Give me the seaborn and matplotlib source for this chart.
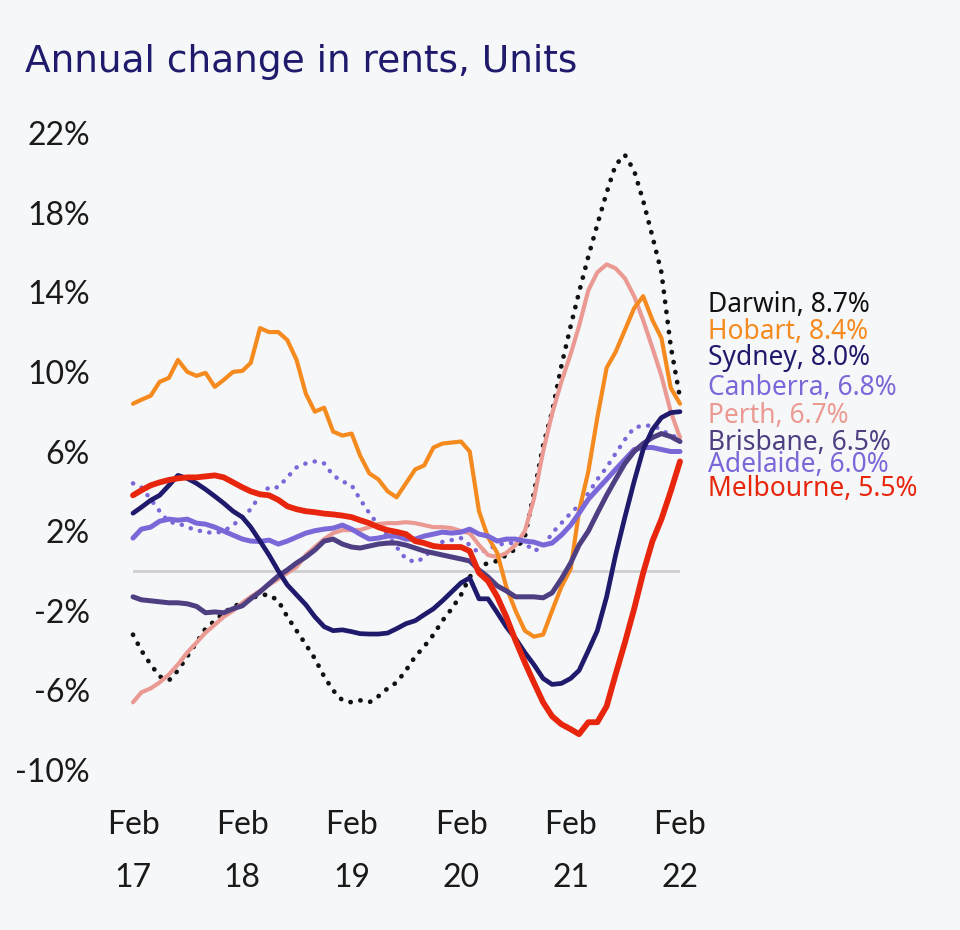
import matplotlib
matplotlib.use("Agg")
import matplotlib.pyplot as plt
import numpy as np
import pandas as pd
import seaborn as sns

# monthly annual change in unit rents (%), Feb 2017 .. Feb 2022
months = pd.date_range("2017-02-01", periods=61, freq="MS")

darwin = [-3.2, -4.0, -4.7, -5.3, -5.5, -5.0, -4.3, -3.6, -2.9, -2.5, -2.1, -1.8,
          -1.6, -1.4, -1.2, -1.2, -1.5, -2.3, -3.0, -3.7, -4.4, -5.3, -6.0, -6.5,
          -6.6, -6.5, -6.6, -6.3, -5.9, -5.6, -5.0, -4.3, -3.8, -3.2, -2.5, -1.9,
          -1.2, -0.3, 0.2, 0.4, 0.5, 0.8, 1.1, 1.7, 3.9, 6.3, 8.0, 10.3,
          12.3, 14.0, 15.8, 17.4, 19.0, 20.4, 20.9, 20.1, 18.6, 16.8, 15.0, 11.3, 8.7]
hobart = [8.4, 8.6, 8.8, 9.5, 9.7, 10.6, 10.0, 9.8, 9.95, 9.25, 9.6, 10.0,
          10.05, 10.45, 12.2, 12.0, 12.0, 11.6, 10.6, 8.9, 8.0, 8.2, 7.0, 6.8,
          6.9, 5.8, 4.9, 4.6, 4.0, 3.7, 4.4, 5.1, 5.3, 6.2, 6.4, 6.45,
          6.5, 6.0, 3.0, 1.7, 0.9, -0.8, -2.0, -3.0, -3.3, -3.2, -2.0, -0.8,
          0.1, 3.0, 5.0, 7.7, 10.2, 11.0, 12.1, 13.2, 13.8, 12.6, 11.7, 9.2, 8.4]
sydney = [2.9, 3.2, 3.55, 3.8, 4.3, 4.8, 4.65, 4.4, 4.1, 3.75, 3.4, 3.0,
          2.7, 2.2, 1.5, 0.8, 0.0, -0.7, -1.2, -1.7, -2.3, -2.8, -3.0, -2.96,
          -3.05, -3.15, -3.17, -3.17, -3.12, -2.9, -2.65, -2.5, -2.2, -1.9, -1.5, -1.05,
          -0.6, -0.35, -1.4, -1.4, -2.1, -2.8, -3.4, -4.1, -4.7, -5.4, -5.7, -5.65,
          -5.4, -5.0, -4.0, -3.0, -1.3, 0.8, 2.7, 4.5, 6.1, 7.1, 7.7, 7.95, 8.0]
canberra = [4.4, 4.2, 3.6, 3.0, 2.45, 2.4, 2.2, 2.05, 1.95, 1.9, 2.0, 2.3,
            2.7, 3.1, 3.8, 4.2, 4.2, 4.7, 5.2, 5.4, 5.5, 5.4, 4.8, 4.5,
            4.3, 3.6, 2.9, 2.3, 1.8, 1.2, 0.6, 0.45, 0.65, 1.2, 1.46, 1.55,
            1.65, 1.3, 0.9, 1.1, 1.3, 1.4, 1.4, 1.4, 1.0, 1.2, 1.9, 2.4,
            2.9, 3.3, 3.9, 4.6, 5.2, 5.9, 6.6, 7.2, 7.3, 7.3, 7.1, 6.8, 6.7]
perth = [-6.6, -6.1, -5.9, -5.6, -5.2, -4.7, -4.1, -3.6, -3.1, -2.7, -2.3, -2.0,
         -1.6, -1.3, -1.0, -0.7, -0.4, -0.1, 0.2, 0.8, 1.2, 1.6, 1.9, 2.05,
         2.05, 2.06, 2.2, 2.36, 2.4, 2.4, 2.45, 2.4, 2.3, 2.2, 2.2, 2.15,
         2.0, 1.9, 1.3, 0.8, 0.7, 0.9, 1.3, 2.0, 3.6, 6.0, 7.9, 9.5,
         10.9, 12.3, 14.1, 15.0, 15.4, 15.2, 14.7, 13.8, 12.6, 11.2, 9.8, 8.0, 6.7]
brisbane = [-1.3, -1.45, -1.5, -1.55, -1.6, -1.6, -1.65, -1.78, -2.1, -2.06, -2.1, -1.9,
            -1.75, -1.4, -1.05, -0.65, -0.25, 0.05, 0.4, 0.7, 1.05, 1.5, 1.6, 1.35,
            1.2, 1.15, 1.25, 1.35, 1.4, 1.4, 1.3, 1.15, 1.0, 0.9, 0.8, 0.7,
            0.6, 0.5, 0.05, -0.3, -0.75, -1.0, -1.3, -1.3, -1.3, -1.35, -1.1, -0.4,
            0.4, 1.3, 2.0, 2.9, 3.8, 4.6, 5.4, 6.0, 6.4, 6.7, 6.9, 6.75, 6.5]
adelaide = [1.65, 2.1, 2.2, 2.5, 2.6, 2.55, 2.6, 2.4, 2.35, 2.2, 2.0, 1.8,
            1.6, 1.5, 1.48, 1.55, 1.35, 1.5, 1.7, 1.9, 2.02, 2.1, 2.15, 2.3,
            2.1, 1.85, 1.6, 1.65, 1.75, 1.75, 1.6, 1.6, 1.75, 1.85, 1.95, 1.9,
            1.95, 2.1, 1.85, 1.75, 1.5, 1.6, 1.6, 1.5, 1.45, 1.3, 1.4, 1.8,
            2.3, 2.9, 3.6, 4.1, 4.6, 5.1, 5.6, 6.1, 6.2, 6.2, 6.1, 6.0, 6.0]
melbourne = [3.8, 4.05, 4.3, 4.45, 4.57, 4.65, 4.7, 4.7, 4.75, 4.8, 4.7, 4.45,
             4.2, 4.0, 3.85, 3.8, 3.57, 3.25, 3.1, 3.0, 2.95, 2.88, 2.84, 2.78,
             2.7, 2.55, 2.4, 2.2, 2.05, 1.96, 1.85, 1.5, 1.4, 1.25, 1.2, 1.2,
             1.2, 1.0, -0.1, -0.5, -1.3, -2.3, -3.5, -4.6, -5.6, -6.6, -7.3, -7.7,
             -7.95, -8.2, -7.6, -7.6, -6.8, -5.2, -3.6, -1.9, -0.1, 1.5, 2.6, 4.0, 5.5]

# label text, label height on the y axis
cities = ["Darwin", "Hobart", "Sydney", "Canberra", "Perth", "Brisbane", "Adelaide", "Melbourne"]
latest = [8.7, 8.4, 8.0, 6.8, 6.7, 6.5, 6.0, 5.5]
label_y = [13.35, 12.0, 10.7, 9.2, 7.8, 6.45, 5.3, 4.1]

series = {"Darwin": darwin, "Hobart": hobart, "Sydney": sydney, "Canberra": canberra,
          "Perth": perth, "Brisbane": brisbane, "Adelaide": adelaide, "Melbourne": melbourne}

colors = {"Darwin": "#111111", "Hobart": "#f58a1f", "Sydney": "#1f1a6b",
          "Canberra": "#7b68d8", "Perth": "#eb9a93", "Brisbane": "#4e3f82",
          "Adelaide": "#7b68d8", "Melbourne": "#e8260d"}
dotted = {"Darwin", "Canberra"}
widths = {"Darwin": 3.4, "Hobart": 3.0, "Sydney": 3.4, "Canberra": 3.2, "Perth": 3.0,
          "Brisbane": 3.6, "Adelaide": 3.6, "Melbourne": 4.2}
draw_order = ["Canberra", "Darwin", "Perth", "Hobart", "Adelaide", "Brisbane", "Sydney", "Melbourne"]

BG = "#f6f7f9"
sns.set_theme(style="white")
plt.rcParams["font.family"] = ["Lato", "DejaVu Sans"]

fig = plt.figure(figsize=(9.6, 9.3), dpi=100, facecolor=BG)
ax = fig.add_axes([133 / 960, 1 - 770 / 930, 547 / 960, 637 / 930])
ax.set_facecolor(BG)

ax.axhline(0, color="#cfcfd2", lw=2, zorder=1)

for i, name in enumerate(draw_order):
    df = pd.DataFrame({"month": months, "value": series[name]})
    sns.lineplot(data=df, x="month", y="value", ax=ax, color=colors[name],
                 lw=widths[name], zorder=2 + i)
    ln = ax.lines[-1]
    ln.set_clip_on(False)
    ln.set_solid_capstyle("round")
    if name in dotted:
        ln.set_linestyle((0, (0.05, 2.1)))
        ln.set_dash_capstyle("round")

for name, val, ly in zip(cities, latest, label_y):
    ax.annotate(f"{name}, {val:.1f}%", xy=(months[-1], ly), xytext=(20, 0),
                textcoords="offset points", va="center", ha="left",
                fontsize=19, color=colors[name], family=["Noto Sans", "DejaVu Sans"])

ax.set_ylim(-10, 22)
ax.set_xlim(months[0], months[-1])
ax.set_yticks(np.arange(-10, 23, 4))
ax.set_yticklabels([f"{v}%" for v in range(-10, 23, 4)])
feb_ticks = pd.date_range("2017-02-01", "2022-02-01", freq="12MS")
ax.set_xticks(feb_ticks)
ax.set_xticklabels([f"Feb\n{d.strftime('%y')}" for d in feb_ticks], linespacing=1.95)
ax.tick_params(axis="y", labelsize=23, colors="#1a1a1a", length=0, pad=31)
ax.tick_params(axis="x", labelsize=23, colors="#1a1a1a", length=0, pad=29)
ax.set_xlabel("")
ax.set_ylabel("")
sns.despine(ax=ax, left=True, bottom=True)

fig.text(25 / 960, 1 - 62 / 930, "Annual change in rents, Units", fontsize=27,
         color="#1f1a6b", va="center", ha="left", family=["DejaVu Sans"])

fig.savefig("out.png", dpi=100, facecolor=BG)
